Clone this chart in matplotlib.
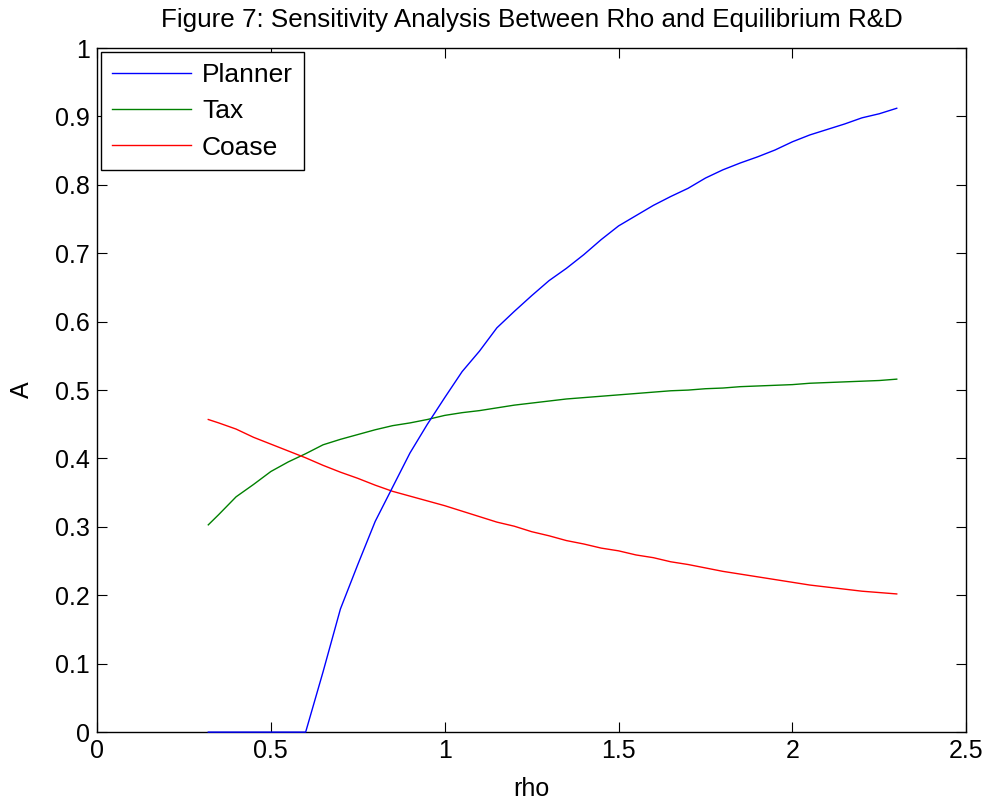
import matplotlib
matplotlib.use("Agg")
import matplotlib.pyplot as plt

rho = [0.32, 0.35, 0.40, 0.45, 0.50, 0.55, 0.60, 0.65, 0.70, 0.75, 0.80, 0.85, 0.90, 0.95,
       1.00, 1.05, 1.10, 1.15, 1.20, 1.25, 1.30, 1.35, 1.40, 1.45, 1.50, 1.55, 1.60, 1.65,
       1.70, 1.75, 1.80, 1.85, 1.90, 1.95, 2.00, 2.05, 2.10, 2.15, 2.20, 2.25, 2.30]

planner = [0.0, 0.0, 0.0, 0.0, 0.0, 0.0, 0.0, 0.088, 0.180, 0.245, 0.308, 0.358, 0.408, 0.450,
           0.489, 0.527, 0.557, 0.591, 0.615, 0.638, 0.660, 0.678, 0.698, 0.720, 0.740, 0.755,
           0.770, 0.783, 0.795, 0.810, 0.822, 0.832, 0.841, 0.851, 0.863, 0.873, 0.881, 0.889,
           0.898, 0.904, 0.912]

tax = [0.303, 0.318, 0.344, 0.362, 0.381, 0.395, 0.407, 0.420, 0.428, 0.435, 0.442, 0.448,
       0.452, 0.457, 0.463, 0.467, 0.470, 0.474, 0.478, 0.481, 0.484, 0.487, 0.489, 0.491,
       0.493, 0.495, 0.497, 0.499, 0.500, 0.502, 0.503, 0.505, 0.506, 0.507, 0.508, 0.510,
       0.511, 0.512, 0.513, 0.514, 0.516]

coase = [0.457, 0.452, 0.443, 0.431, 0.421, 0.411, 0.401, 0.390, 0.380, 0.371, 0.361, 0.352,
         0.345, 0.338, 0.331, 0.323, 0.315, 0.307, 0.301, 0.293, 0.287, 0.280, 0.275, 0.269,
         0.265, 0.259, 0.255, 0.249, 0.245, 0.240, 0.235, 0.231, 0.227, 0.223, 0.219, 0.215,
         0.212, 0.209, 0.206, 0.204, 0.202]

xticks = [0, 0.5, 1, 1.5, 2, 2.5]
xticklabels = ["0", "0.5", "1", "1.5", "2", "2.5"]
yticks = [0, 0.1, 0.2, 0.3, 0.4, 0.5, 0.6, 0.7, 0.8, 0.9, 1]
yticklabels = ["0", "0.1", "0.2", "0.3", "0.4", "0.5", "0.6", "0.7", "0.8", "0.9", "1"]

plt.rcParams['font.family'] = ['Liberation Sans', 'DejaVu Sans']

fig = plt.figure(figsize=(9.85, 8.01), dpi=100)
ax = fig.add_axes([0.0985, 0.086, 0.8825, 0.854])

ax.plot(rho, planner, color='#0000ff', lw=1.0, label='Planner', clip_on=False, zorder=3)
ax.plot(rho, tax, color='#008000', lw=1.0, label='Tax')
ax.plot(rho, coase, color='#ff0000', lw=1.0, label='Coase')

ax.set_xlim(0, 2.5)
ax.set_ylim(0, 1)
ax.set_xticks(xticks)
ax.set_xticklabels(xticklabels)
ax.set_yticks(yticks)
ax.set_yticklabels(yticklabels)
ax.tick_params(direction='in', length=7, width=0.8, top=True, right=True,
               labelsize=18, pad=5)
for s in ax.spines.values():
    s.set_linewidth(1.0)

ax.set_xlabel('rho', fontsize=18, labelpad=10)
ax.set_ylabel('A', fontsize=18, labelpad=15)
ax.set_title('Figure 7: Sensitivity Analysis Between Rho and Equilibrium R&D',
             fontsize=18.7, pad=15)

leg = ax.legend(loc='upper left', fontsize=19, fancybox=False, framealpha=1,
                edgecolor='black', handlelength=3.0, borderaxespad=0.15,
                borderpad=0.41, labelspacing=0.47, handletextpad=0.42)
leg.get_frame().set_linewidth(1.0)
leg.set_zorder(5)

fig.savefig('out.png', dpi=100)
